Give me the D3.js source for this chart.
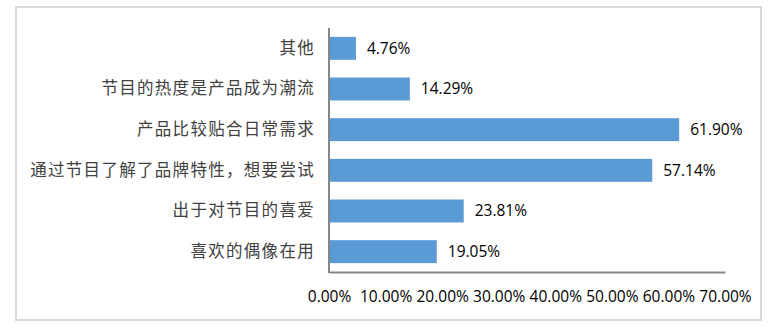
<!DOCTYPE html>
<html>
<head>
<meta charset="utf-8">
<script src="https://cdn.jsdelivr.net/npm/d3@7"></script>
<style>
  body { margin: 0; background: #fff; }
  svg { display: block; }
</style>
</head>
<body>
<div id="chart"></div>
<script>
const categories = [
  '其他',
  '节目的热度是产品成为潮流',
  '产品比较贴合日常需求',
  '通过节目了解了品牌特性，想要尝试',
  '出于对节目的喜爱',
  '喜欢的偶像在用'
];
const values = [4.76, 14.29, 61.90, 57.14, 23.81, 19.05];
const xTicks = [0, 10, 20, 30, 40, 50, 60, 70];

const width = 772;
const height = 328;

const svg = d3.select('#chart')
  .append('svg')
  .attr('width', width)
  .attr('height', height);

// outer frame
svg.append('rect')
  .attr('x', 16).attr('y', 7)
  .attr('width', 745).attr('height', 313)
  .attr('fill', 'none')
  .attr('stroke', '#d9d9d9')
  .attr('stroke-width', 2);

const plot = { left: 329, right: 725, top: 28, bottom: 272 };

const xScale = d3.scaleLinear().domain([0, 70]).range([plot.left, plot.right]);
const yScale = d3.scaleBand()
  .domain(categories)
  .range([plot.top, plot.bottom])
  .paddingInner(0.435)
  .paddingOuter(0.2175);

const data = categories.map((c, i) => ({ cat: c, value: values[i] }));

svg.append('g')
  .selectAll('rect')
  .data(data)
  .join('rect')
  .attr('x', xScale(0))
  .attr('y', (d) => yScale(d.cat))
  .attr('width', (d) => xScale(d.value) - xScale(0))
  .attr('height', yScale.bandwidth())
  .attr('fill', '#5b9bd5');

// value labels
svg.append('g')
  .selectAll('text')
  .data(data)
  .join('text')
  .attr('x', (d) => xScale(d.value) + 11)
  .attr('y', (d) => yScale(d.cat) + yScale.bandwidth() / 2)
  .attr('dy', '0.35em')
  .attr('font-family', 'Open Sans, sans-serif')
  .attr('font-size', 15.5)
  .attr('fill', '#000')
  .text((d) => d.value.toFixed(2) + '%');

// category labels
const yAxis = svg.append('g')
  .attr('transform', `translate(${plot.left}, 0)`)
  .call(d3.axisLeft(yScale).tickSize(0).tickPadding(14));
yAxis.select('.domain').remove();
yAxis.selectAll('text')
  .attr('font-family', 'Noto Sans CJK SC, sans-serif')
  .attr('font-size', 16.5)
  .attr('letter-spacing', '1.3px')
  .attr('fill', '#404040');

// x axis
const xAxis = svg.append('g')
  .attr('transform', `translate(0, ${plot.bottom})`)
  .call(d3.axisBottom(xScale).tickValues(xTicks).tickSize(0).tickPadding(19)
    .tickFormat((d) => d.toFixed(2) + '%'));
xAxis.select('.domain')
  .attr('stroke', '#868686')
  .attr('stroke-width', 2);
xAxis.selectAll('text')
  .attr('font-family', 'Open Sans, sans-serif')
  .attr('font-size', 15.5)
  .attr('fill', '#000');

// vertical axis line
svg.append('line')
  .attr('x1', plot.left).attr('x2', plot.left)
  .attr('y1', plot.top).attr('y2', plot.bottom + 1)
  .attr('stroke', '#868686')
  .attr('stroke-width', 2);
</script>
</body>
</html>
